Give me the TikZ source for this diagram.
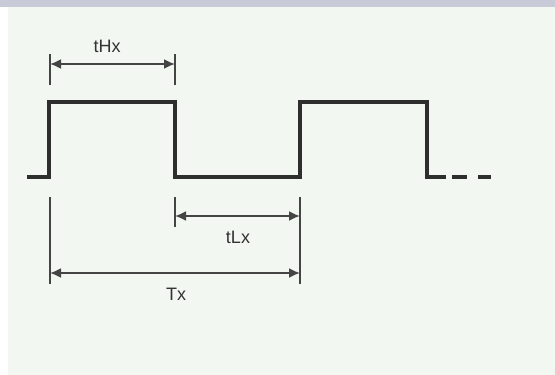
\documentclass[tikz,border=0pt]{standalone}
\usepackage{fontspec}
\setmainfont{Liberation Sans}
\usetikzlibrary{arrows.meta}
\definecolor{bgc}{HTML}{F3F7F1}
\definecolor{barc}{HTML}{C9CAD8}
\definecolor{wavec}{HTML}{2E2E2E}
\definecolor{dimc}{HTML}{444444}
\tikzset{
  wave/.style={draw=wavec, line width=3.6pt, line join=miter},
  dimline/.style={draw=dimc, line width=1.8pt, {Latex[length=11pt,width=10pt]}-{Latex[length=11pt,width=10pt]}},
  tick/.style={draw=dimc, line width=1.8pt},
  lbl/.style={font=\fontsize{18}{20}\selectfont, text=black!80, inner sep=0pt}
}
\begin{document}
\begin{tikzpicture}[x=1pt,y=-1pt]
\useasboundingbox (0,0) rectangle (555,375);
\fill[bgc] (0,0) rectangle (555,375);
\fill[barc] (0,0) rectangle (555,7);
\fill[white] (0,7) rectangle (8,375);
% waveform coordinates
\coordinate (w0) at (27,177);
\coordinate (r1) at (49,177);
\coordinate (r1t) at (49,102);
\coordinate (f1t) at (175,102);
\coordinate (f1) at (175,177);
\coordinate (r2) at (300,177);
\coordinate (r2t) at (300,102);
\coordinate (f2t) at (427,102);
\coordinate (f2) at (427,177);
\coordinate (w1) at (446,177);
\coordinate (d1a) at (452,177);
\coordinate (d1b) at (467,177);
\coordinate (d2a) at (478,177);
\coordinate (d2b) at (491,177);
\draw[wave] (w0) -- (r1) -- (r1t) -- (f1t) -- (f1) -- (r2) -- (r2t) -- (f2t) -- (f2) -- (w1);
\draw[wave] (d1a) -- (d1b);
\draw[wave] (d2a) -- (d2b);
% tHx
\coordinate (hA1) at (50,54); \coordinate (hA2) at (50,85);
\coordinate (hB1) at (175,54); \coordinate (hB2) at (175,85);
\draw[tick] (hA1) -- (hA2);
\draw[tick] (hB1) -- (hB2);
\coordinate (hL) at (50,64); \coordinate (hR) at (175,64);
\draw[dimline] (hL) -- (hR);
\node[lbl] (tHx) at (107,46) {tHx};
% tLx
\coordinate (lA1) at (175,197); \coordinate (lA2) at (175,227);
\draw[tick] (lA1) -- (lA2);
\coordinate (rV1) at (300,197); \coordinate (rV2) at (300,284);
\draw[tick] (rV1) -- (rV2);
\coordinate (lL) at (175,216); \coordinate (lR) at (300,216);
\draw[dimline] (lL) -- (lR);
\node[lbl] (tLx) at (238,237) {tLx};
% Tx
\coordinate (tA1) at (50,197); \coordinate (tA2) at (50,284);
\draw[tick] (tA1) -- (tA2);
\coordinate (tL) at (50,273); \coordinate (tR) at (300,273);
\draw[dimline] (tL) -- (tR);
\node[lbl] (Tx) at (176,294) {Tx};
\end{tikzpicture}
\end{document}
